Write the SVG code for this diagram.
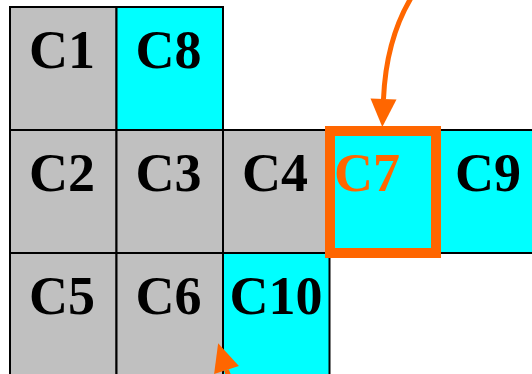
<svg xmlns="http://www.w3.org/2000/svg" width="532" height="374" viewBox="0 0 532 374">
<style>
.cell{stroke:#000;stroke-width:2}
.g{fill:#C0C0C0}
.c{fill:#00FFFF}
.t{font-family:"Liberation Serif","Times New Roman",serif;font-weight:bold;font-size:54px;fill:#000;text-anchor:middle}
.o{fill:#FF6600;text-anchor:start}
.hl{fill:none;stroke:#FF6600;stroke-width:10}
.arr{fill:none;stroke:#FF6600;stroke-width:5}
</style>
<defs>
<marker id="ah" markerUnits="userSpaceOnUse" markerWidth="28" markerHeight="26" refX="0" refY="13" orient="auto" overflow="visible">
<path d="M0,0 L28,13 L0,26 z" fill="#FF6600"/>
</marker>
</defs>
<rect width="532" height="374" fill="#fff"/>
<g id="C1"><rect class="cell g" x="10" y="7" width="106.5" height="123"/><text class="t" x="62" y="68">C1</text></g>
<g id="C8"><rect class="cell c" x="116.5" y="7" width="106.5" height="123"/><text class="t" x="168.5" y="68">C8</text></g>
<g id="C2"><rect class="cell g" x="10" y="130" width="106.5" height="123"/><text class="t" x="62" y="191">C2</text></g>
<g id="C3"><rect class="cell g" x="116.5" y="130" width="106.5" height="123"/><text class="t" x="168.5" y="191">C3</text></g>
<g id="C4"><rect class="cell g" x="223" y="130" width="106.5" height="123"/><text class="t" x="275" y="191">C4</text></g>
<g id="C9"><rect class="cell c" x="436" y="130" width="106.5" height="123"/><text class="t" x="488" y="191">C9</text></g>
<g id="C5"><rect class="cell g" x="10" y="253" width="106.5" height="123"/><text class="t" x="62" y="314">C5</text></g>
<g id="C6"><rect class="cell g" x="116.5" y="253" width="106.5" height="123"/><text class="t" x="168.5" y="314">C6</text></g>
<g id="C10"><rect class="cell c" x="223" y="253" width="106.5" height="123"/><text class="t" x="276" y="314">C10</text></g>
<g id="C7"><rect class="cell c" x="329.5" y="130" width="106.5" height="123"/><rect class="hl" x="330" y="131" width="106" height="122"/><text class="t o" x="334" y="191">C7</text></g>
<g id="connectors">
<path class="arr" d="M411,-2 Q386,40 383.5,99" marker-end="url(#ah)"/>
<path class="arr" d="M236,390 Q229,378 226.5,370" marker-end="url(#ah)"/>
</g>
</svg>
